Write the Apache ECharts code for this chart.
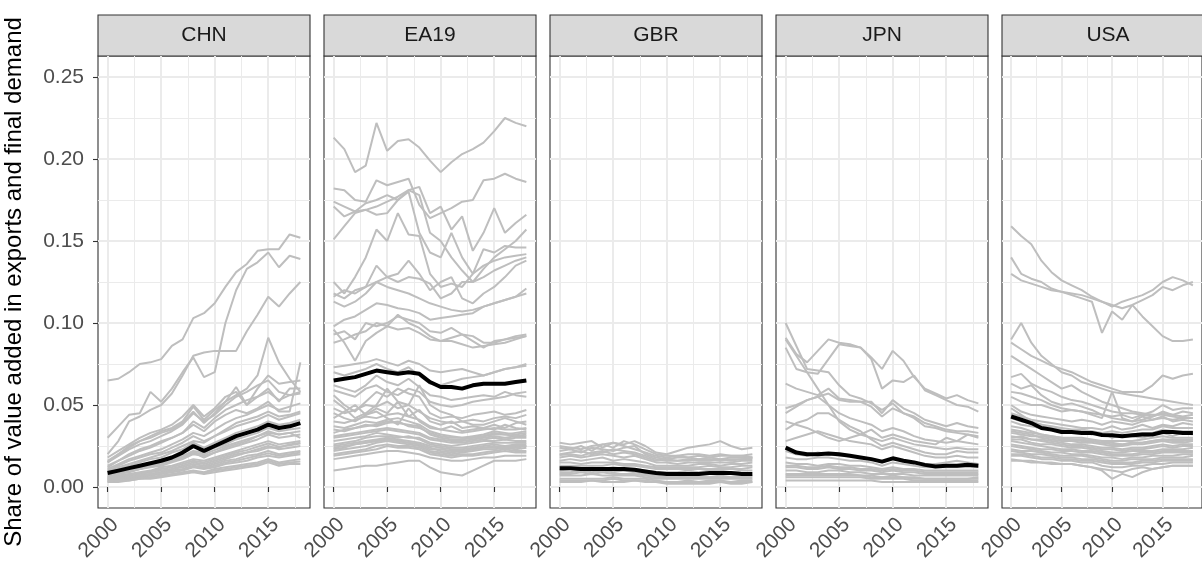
<!DOCTYPE html>
<html>
<head>
<meta charset="utf-8">
<script src="https://cdn.jsdelivr.net/npm/echarts@6/dist/echarts.min.js"></script>
<style>
  html, body { margin: 0; padding: 0; background: #fff; }
  #chart { width: 1202px; height: 572px; }
</style>
</head>
<body>
<div id="chart"></div>
<script>
// years on the x axis
const years = [2000, 2001, 2002, 2003, 2004, 2005, 2006, 2007, 2008, 2009,
  2010, 2011, 2012, 2013, 2014, 2015, 2016, 2017, 2018];
const panels = ['CHN', 'EA19', 'GBR', 'JPN', 'USA'];
const yTicks = [0, 0.05, 0.10, 0.15, 0.20, 0.25];
const yMinor = [0.025, 0.075, 0.125, 0.175, 0.225];
const xTicks = [2000, 2005, 2010, 2015];
const xMinor = [2002.5, 2007.5, 2012.5, 2017.5];

// CHN
const chnMean = [.0085, .010, .0115, .013, .0145, .016, .018, .021, .025, .022, .025, .028, .031, .033, .035, .038, .036, .037, .039];
const chnLines = [
  [.065, .066, .070, .075, .076, .078, .086, .090, .103, .106, .112, .122, .131, .136, .144, .145, .145, .154, .152],
  [.030, .037, .044, .045, .058, .052, .060, .070, .079, .067, .070, .100, .120, .133, .137, .143, .134, .141, .139],
  [.020, .028, .040, .043, .047, .050, .057, .068, .080, .082, .083, .083, .083, .095, .105, .116, .110, .118, .125],
  [.015, .020, .025, .028, .031, .034, .036, .040, .049, .041, .047, .052, .056, .060, .068, .091, .076, .066, .058],
  [.012, .016, .019, .022, .024, .027, .030, .033, .038, .034, .040, .044, .047, .045, .048, .052, .046, .046, .076],
  [.018, .022, .026, .030, .033, .035, .038, .043, .050, .043, .048, .055, .058, .050, .060, .068, .063, .064, .065],
  [.015, .019, .023, .026, .028, .031, .034, .038, .045, .040, .044, .050, .055, .058, .062, .065, .058, .056, .058],
  [.016, .020, .024, .028, .030, .033, .035, .039, .046, .039, .045, .052, .061, .050, .055, .060, .052, .060, .060],
  [.013, .016, .020, .023, .025, .028, .030, .033, .040, .036, .042, .047, .050, .053, .055, .058, .053, .056, .057],
  [.011, .014, .017, .019, .021, .023, .026, .029, .033, .031, .035, .039, .042, .044, .047, .050, .047, .049, .051],
  [.010, .012, .014, .016, .018, .020, .022, .025, .028, .027, .031, .034, .037, .039, .041, .044, .041, .043, .045],
  [.008, .009, .010, .012, .013, .015, .017, .019, .022, .021, .024, .026, .029, .031, .033, .036, .034, .035, .036],
  [.007, .008, .009, .011, .012, .013, .015, .017, .020, .019, .021, .023, .025, .027, .029, .032, .030, .031, .032],
  [.006, .007, .008, .009, .010, .012, .013, .015, .017, .016, .018, .020, .022, .024, .026, .028, .026, .027, .028],
  [.005, .006, .007, .008, .009, .010, .011, .013, .015, .014, .016, .018, .020, .021, .023, .025, .023, .024, .025],
  [.005, .005, .006, .007, .008, .009, .010, .011, .013, .012, .014, .016, .017, .019, .020, .022, .020, .021, .022],
  [.004, .005, .005, .006, .007, .008, .009, .010, .012, .011, .012, .014, .015, .016, .018, .019, .018, .019, .020],
  [.003, .004, .004, .005, .006, .007, .008, .009, .010, .009, .011, .012, .013, .014, .015, .017, .015, .016, .017],
  [.003, .003, .004, .005, .005, .006, .007, .008, .009, .008, .009, .010, .011, .012, .013, .015, .013, .014, .014],
  [.009, .011, .013, .015, .017, .018, .021, .023, .027, .024, .027, .030, .033, .035, .037, .040, .038, .039, .041],
  [.006, .008, .010, .011, .013, .014, .016, .018, .021, .018, .021, .024, .026, .028, .031, .033, .032, .033, .030],
  [.004, .005, .006, .007, .008, .009, .011, .012, .014, .013, .015, .017, .019, .021, .022, .024, .024, .026, .027],
  [.0075, .0085, .0095, .011, .0125, .014, .016, .018, .021, .020, .0225, .025, .027, .029, .031, .034, .032, .033, .034],
  [.0055, .0065, .0075, .0085, .0095, .011, .012, .014, .016, .015, .017, .019, .021, .0225, .0245, .0265, .0245, .0255, .0265],
  [.0045, .0055, .006, .0065, .0075, .0085, .0095, .0105, .0125, .0115, .013, .015, .016, .0175, .019, .0205, .019, .020, .021],
  [.0035, .004, .0045, .0055, .006, .0065, .0075, .0085, .0095, .0085, .010, .011, .012, .013, .014, .016, .014, .015, .0155],
  [.010, .013, .016, .018, .020, .021, .024, .027, .031, .028, .031, .035, .039, .041, .043, .046, .043, .044, .046]
];

// EA19
const eaMean = [.065, .066, .067, .069, .071, .070, .069, .070, .069, .064, .061, .061, .060, .062, .063, .063, .063, .064, .065];
const eaLines = [
  [.213, .206, .192, .196, .222, .205, .211, .212, .207, .199, .192, .198, .203, .206, .210, .217, .225, .222, .220],
  [.182, .181, .175, .174, .187, .184, .186, .188, .172, .164, .167, .170, .174, .175, .187, .188, .191, .188, .186],
  [.174, .171, .168, .173, .175, .178, .175, .181, .183, .167, .171, .157, .165, .144, .155, .170, .155, .161, .166],
  [.171, .165, .168, .169, .166, .167, .175, .180, .155, .143, .140, .155, .140, .130, .145, .143, .147, .146, .146],
  [.151, .159, .167, .169, .171, .174, .177, .181, .178, .155, .150, .140, .132, .125, .133, .140, .145, .150, .157],
  [.125, .118, .128, .140, .157, .150, .167, .154, .153, .130, .122, .124, .122, .130, .135, .138, .140, .141, .142],
  [.118, .115, .120, .122, .125, .128, .125, .128, .127, .124, .115, .118, .125, .125, .128, .132, .135, .138, .140],
  [.116, .120, .118, .122, .135, .128, .130, .138, .130, .120, .125, .128, .115, .112, .118, .122, .128, .135, .138],
  [.113, .110, .113, .118, .125, .122, .120, .118, .115, .112, .110, .108, .107, .108, .110, .112, .114, .116, .118],
  [.098, .102, .104, .108, .112, .111, .109, .108, .106, .102, .103, .104, .105, .106, .110, .112, .114, .116, .121],
  [.093, .095, .090, .100, .098, .100, .104, .102, .100, .095, .094, .097, .093, .092, .088, .088, .090, .092, .093],
  [.096, .088, .077, .089, .094, .098, .105, .100, .097, .092, .089, .091, .093, .089, .085, .089, .090, .091, .092],
  [.088, .090, .093, .095, .100, .098, .096, .097, .094, .090, .089, .089, .087, .085, .086, .087, .088, .090, .092],
  [.073, .074, .075, .076, .078, .076, .074, .077, .075, .071, .070, .071, .072, .070, .068, .070, .072, .073, .075],
  [.070, .068, .070, .072, .075, .072, .070, .073, .068, .063, .062, .064, .066, .067, .068, .070, .072, .073, .074],
  [.059, .057, .055, .060, .062, .058, .056, .060, .058, .052, .050, .049, .050, .052, .053, .054, .055, .057, .058],
  [.056, .050, .046, .052, .058, .055, .060, .057, .055, .045, .042, .043, .042, .044, .045, .046, .044, .045, .047],
  [.053, .048, .042, .045, .050, .060, .052, .050, .062, .050, .046, .044, .040, .038, .038, .040, .042, .040, .038],
  [.045, .042, .040, .044, .046, .042, .038, .048, .040, .036, .035, .037, .034, .035, .036, .035, .038, .036, .035],
  [.037, .036, .038, .040, .039, .041, .042, .040, .038, .034, .032, .031, .030, .031, .032, .034, .033, .032, .033],
  [.031, .032, .033, .034, .035, .036, .035, .034, .033, .030, .029, .028, .028, .029, .030, .031, .030, .031, .031],
  [.028, .029, .030, .031, .033, .032, .031, .030, .030, .027, .026, .025, .026, .027, .028, .028, .029, .028, .028],
  [.025, .026, .027, .028, .029, .030, .029, .028, .027, .025, .024, .023, .023, .024, .025, .026, .025, .026, .026],
  [.022, .023, .024, .025, .027, .028, .027, .026, .025, .022, .021, .020, .021, .022, .023, .023, .024, .023, .024],
  [.019, .020, .021, .022, .023, .025, .024, .024, .023, .020, .019, .018, .019, .019, .020, .021, .022, .021, .021],
  [.010, .011, .012, .013, .013, .014, .015, .016, .016, .012, .009, .008, .007, .010, .013, .016, .016, .016, .017],
  [.042, .046, .050, .044, .048, .045, .052, .043, .047, .040, .038, .040, .036, .037, .036, .038, .036, .039, .040],
  [.062, .060, .058, .062, .068, .064, .062, .066, .061, .056, .055, .053, .054, .055, .056, .055, .058, .056, .055],
  [.033, .035, .036, .038, .037, .039, .040, .037, .036, .033, .031, .030, .030, .030, .031, .032, .032, .033, .034],
  [.026, .027, .028, .030, .031, .031, .030, .031, .029, .026, .025, .024, .024, .025, .026, .027, .027, .027, .027],
  [.023, .024, .026, .027, .028, .029, .028, .027, .026, .024, .022, .021, .022, .023, .024, .024, .025, .025, .025],
  [.017, .018, .019, .020, .021, .022, .022, .021, .020, .018, .017, .016, .016, .017, .018, .018, .019, .019, .019],
  [.030, .031, .032, .033, .034, .035, .034, .033, .032, .029, .028, .027, .027, .028, .029, .030, .029, .030, .030],
  [.035, .034, .036, .037, .038, .040, .039, .038, .037, .032, .030, .029, .029, .030, .031, .033, .032, .031, .032],
  [.024, .025, .026, .027, .028, .029, .028, .027, .026, .023, .023, .022, .022, .023, .024, .025, .024, .024, .025],
  [.020, .021, .022, .023, .025, .026, .025, .025, .024, .021, .020, .019, .020, .020, .021, .022, .023, .022, .022],
  [.040, .039, .041, .043, .042, .044, .045, .043, .041, .037, .035, .034, .033, .034, .035, .036, .035, .035, .036],
  [.048, .045, .047, .050, .049, .052, .048, .050, .046, .042, .040, .039, .040, .041, .040, .042, .043, .042, .044]
];

// GBR
const gbrMean = [.0115, .0115, .011, .011, .011, .011, .011, .0105, .0095, .0085, .008, .008, .008, .008, .0085, .0085, .0085, .008, .008];
const gbrLines = [
  [.027, .026, .027, .028, .024, .027, .026, .028, .025, .021, .020, .022, .024, .025, .026, .028, .025, .023, .024],
  [.024, .023, .025, .022, .026, .027, .025, .023, .021, .019, .018, .019, .020, .020, .019, .020, .019, .019, .020],
  [.022, .023, .021, .024, .023, .022, .024, .025, .020, .018, .017, .018, .018, .017, .018, .017, .018, .018, .018],
  [.020, .021, .022, .020, .021, .023, .022, .021, .019, .017, .016, .016, .017, .016, .016, .017, .016, .017, .017],
  [.018, .019, .018, .019, .020, .019, .018, .019, .017, .015, .015, .014, .015, .015, .015, .015, .015, .016, .016],
  [.016, .017, .016, .017, .018, .016, .017, .016, .015, .013, .013, .013, .013, .014, .014, .013, .014, .014, .015],
  [.015, .015, .014, .015, .015, .015, .014, .014, .013, .012, .012, .012, .012, .012, .013, .012, .012, .013, .013],
  [.013, .013, .013, .013, .013, .014, .013, .013, .012, .011, .011, .011, .011, .011, .011, .011, .011, .011, .012],
  [.009, .009, .010, .009, .010, .009, .010, .009, .008, .007, .006, .006, .007, .006, .006, .007, .006, .006, .007],
  [.007, .007, .007, .008, .007, .007, .007, .007, .006, .005, .005, .005, .005, .005, .005, .005, .005, .005, .005],
  [.005, .005, .005, .005, .005, .006, .005, .005, .005, .004, .003, .003, .004, .003, .004, .004, .003, .004, .004],
  [.003, .003, .003, .004, .003, .003, .003, .004, .003, .003, .002, .002, .002, .002, .002, .003, .002, .002, .003],
  [.0195, .020, .019, .021, .022, .020, .021, .020, .018, .016, .017, .016, .016, .017, .017, .016, .017, .017, .018],
  [.025, .024, .023, .025, .026, .024, .028, .026, .023, .020, .019, .019, .018, .019, .018, .019, .019, .019, .018],
  [.010, .011, .011, .012, .011, .012, .011, .011, .010, .009, .009, .009, .010, .009, .010, .010, .009, .010, .010],
  [.008, .008, .009, .008, .009, .008, .008, .008, .007, .006, .006, .006, .006, .006, .006, .006, .006, .006, .006],
  [.004, .004, .004, .004, .004, .005, .004, .004, .004, .003, .003, .003, .003, .003, .003, .003, .003, .003, .003]
];

// JPN
const jpnMean = [.024, .021, .020, .020, .0205, .020, .019, .018, .017, .0155, .0175, .016, .015, .0135, .0125, .013, .013, .0135, .013];
const jpnLines = [
  [.100, .086, .072, .071, .070, .062, .056, .054, .051, .047, .051, .045, .042, .037, .036, .034, .033, .032, .031],
  [.091, .081, .076, .083, .090, .088, .087, .085, .079, .072, .083, .077, .067, .060, .057, .054, .056, .053, .051],
  [.085, .072, .070, .069, .078, .087, .086, .085, .078, .060, .065, .064, .068, .059, .056, .053, .050, .049, .046],
  [.063, .060, .058, .056, .060, .054, .053, .052, .052, .045, .053, .048, .045, .041, .039, .037, .039, .037, .036],
  [.045, .049, .053, .055, .057, .053, .052, .052, .049, .043, .048, .045, .043, .039, .037, .035, .034, .034, .033],
  [.035, .039, .041, .045, .045, .041, .037, .034, .029, .025, .027, .025, .023, .021, .020, .020, .022, .021, .021],
  [.090, .080, .070, .060, .050, .040, .035, .032, .030, .028, .030, .028, .026, .025, .024, .023, .024, .023, .023],
  [.048, .050, .053, .055, .050, .045, .042, .040, .038, .034, .036, .034, .031, .029, .028, .027, .028, .027, .026],
  [.040, .038, .036, .033, .030, .028, .030, .032, .035, .030, .032, .030, .028, .027, .026, .030, .028, .032, .030],
  [.022, .020, .019, .021, .020, .019, .019, .018, .017, .015, .017, .016, .015, .014, .014, .015, .016, .015, .014],
  [.018, .017, .017, .018, .018, .017, .016, .016, .015, .013, .015, .014, .013, .012, .012, .012, .012, .012, .012],
  [.015, .014, .014, .013, .014, .014, .013, .013, .012, .011, .012, .011, .011, .010, .010, .010, .010, .010, .010],
  [.012, .012, .011, .011, .012, .011, .011, .010, .010, .009, .010, .009, .009, .008, .008, .008, .008, .008, .008],
  [.010, .010, .009, .009, .010, .010, .009, .009, .008, .008, .008, .008, .007, .007, .007, .007, .007, .007, .007],
  [.008, .008, .008, .008, .008, .008, .008, .007, .007, .006, .007, .006, .006, .005, .005, .005, .005, .005, .005],
  [.006, .006, .006, .006, .006, .006, .006, .006, .005, .005, .005, .005, .004, .004, .004, .004, .004, .004, .004],
  [.004, .004, .004, .004, .004, .004, .004, .004, .004, .003, .003, .003, .003, .003, .003, .003, .003, .003, .003],
  [.013, .013, .012, .012, .013, .012, .012, .011, .011, .010, .011, .010, .010, .009, .009, .009, .009, .009, .009],
  [.007, .007, .007, .007, .007, .007, .007, .007, .006, .006, .006, .006, .005, .005, .005, .005, .005, .005, .006],
  [.028, .030, .032, .034, .032, .030, .028, .027, .026, .023, .025, .023, .021, .019, .018, .018, .019, .018, .018]
];

// USA
const usaMean = [.043, .041, .039, .036, .035, .0335, .0335, .033, .033, .0317, .0315, .031, .0315, .032, .032, .0335, .0335, .033, .033];
const usaLines = [
  [.159, .153, .148, .138, .131, .126, .123, .120, .116, .113, .110, .113, .115, .117, .120, .125, .128, .126, .123],
  [.140, .130, .127, .125, .121, .119, .117, .115, .113, .094, .107, .102, .111, .104, .098, .092, .089, .089, .090],
  [.130, .126, .124, .122, .120, .119, .118, .117, .115, .113, .111, .109, .111, .114, .117, .122, .120, .123, .125],
  [.090, .100, .088, .080, .075, .070, .068, .064, .062, .060, .058, .057, .056, .055, .054, .053, .052, .051, .050],
  [.088, .084, .080, .077, .074, .072, .070, .067, .064, .062, .060, .058, .058, .058, .062, .068, .066, .068, .069],
  [.067, .069, .063, .060, .058, .055, .053, .052, .050, .048, .046, .045, .045, .044, .046, .050, .047, .048, .048],
  [.063, .060, .062, .056, .052, .050, .051, .049, .047, .044, .043, .044, .042, .044, .043, .045, .044, .046, .045],
  [.058, .057, .055, .053, .050, .048, .047, .046, .044, .042, .058, .042, .040, .043, .041, .042, .041, .042, .042],
  [.055, .052, .050, .050, .048, .046, .047, .046, .045, .044, .042, .041, .040, .041, .043, .046, .044, .043, .044],
  [.040, .038, .037, .036, .035, .034, .034, .033, .033, .032, .031, .031, .032, .033, .033, .035, .034, .034, .034],
  [.037, .036, .034, .032, .031, .030, .030, .030, .029, .028, .028, .028, .028, .029, .030, .031, .030, .030, .030],
  [.034, .033, .032, .030, .029, .028, .028, .027, .027, .026, .025, .025, .026, .026, .027, .028, .027, .027, .028],
  [.031, .030, .029, .028, .027, .026, .025, .025, .024, .023, .023, .022, .023, .023, .024, .025, .024, .025, .025],
  [.028, .027, .026, .025, .024, .023, .023, .022, .022, .021, .020, .020, .020, .021, .021, .022, .022, .022, .022],
  [.025, .024, .023, .022, .021, .021, .020, .020, .019, .018, .018, .017, .018, .018, .019, .019, .019, .020, .020],
  [.022, .021, .020, .020, .019, .018, .018, .017, .017, .016, .015, .015, .015, .016, .016, .017, .017, .017, .017],
  [.019, .019, .018, .017, .017, .016, .016, .015, .015, .013, .012, .012, .013, .013, .014, .014, .015, .015, .015],
  [.016, .016, .015, .015, .014, .014, .014, .013, .012, .011, .010, .009, .011, .012, .011, .012, .013, .013, .013],
  [.017, .016, .016, .015, .015, .014, .014, .013, .012, .010, .005, .008, .006, .009, .011, .012, .013, .013, .013],
  [.045, .043, .041, .040, .039, .038, .037, .036, .036, .035, .037, .035, .036, .038, .036, .038, .037, .039, .038],
  [.050, .046, .044, .043, .042, .041, .040, .041, .040, .038, .040, .039, .038, .040, .041, .043, .040, .041, .040],
  [.048, .044, .040, .038, .036, .035, .033, .035, .032, .033, .030, .032, .031, .030, .032, .033, .031, .033, .032],
  [.080, .076, .072, .068, .064, .060, .062, .058, .055, .052, .050, .048, .046, .045, .044, .044, .043, .042, .042],
  [.029, .029, .027, .026, .026, .025, .024, .024, .023, .022, .021, .021, .022, .022, .022, .023, .023, .023, .024],
  [.023, .022, .022, .021, .020, .019, .019, .019, .018, .017, .016, .016, .017, .017, .017, .018, .018, .018, .019],
  [.033, .032, .031, .031, .030, .029, .029, .028, .028, .027, .027, .026, .027, .027, .028, .029, .029, .029, .029],
  [.035, .034, .033, .032, .031, .030, .029, .029, .028, .027, .026, .026, .027, .027, .028, .029, .028, .028, .029],
  [.026, .025, .024, .023, .023, .022, .022, .021, .021, .020, .019, .019, .019, .020, .020, .021, .021, .021, .021],
  [.020, .020, .019, .018, .018, .017, .017, .016, .016, .015, .014, .014, .014, .015, .015, .016, .016, .016, .016],
  [.042, .040, .039, .038, .037, .036, .035, .035, .034, .033, .034, .033, .034, .035, .035, .037, .036, .036, .036],
  [.030, .031, .029, .029, .028, .027, .026, .026, .025, .024, .024, .023, .024, .024, .025, .026, .025, .026, .026]
];

const allLines = [chnLines, eaLines, gbrLines, jpnLines, usaLines];
const allMeans = [chnMean, eaMean, gbrMean, jpnMean, usaMean];

const font = 'Liberation Sans, Arial, Helvetica, sans-serif';
const panelLeft = [98, 324, 550, 776, 1002];
const panelW = 212, panelTop = 56, panelH = 452, stripTop = 15;
const xMin = 1999.1, xMax = 2018.9, yMin = -0.0128, yMax = 0.2628;

const grids = [], xAxes = [], yAxes = [], series = [], graphics = [];

panels.forEach((name, i) => {
  grids.push({
    left: panelLeft[i], top: panelTop, width: panelW, height: panelH,
    show: true, borderColor: '#333', borderWidth: 1.1, backgroundColor: '#fff'
  });
  // minor grid lines
  xAxes.push({
    gridIndex: i, type: 'value', position: 'bottom', min: xMin, max: xMax,
    axisLine: { show: false },
    axisTick: { show: false, customValues: xMinor },
    axisLabel: { show: false },
    splitLine: { show: true, lineStyle: { color: '#ebebeb', width: 1 } }
  });
  // major axis
  xAxes.push({
    gridIndex: i, type: 'value', position: 'bottom', min: xMin, max: xMax,
    axisLine: { show: false },
    axisTick: { show: true, customValues: xTicks, length: 5, lineStyle: { color: '#333', width: 1.1 } },
    axisLabel: {
      customValues: xTicks, rotate: 45, margin: 6, fontSize: 21, color: '#4d4d4d', fontFamily: font,
      align: 'right', verticalAlign: 'top',
      formatter: v => String(v)
    },
    splitLine: { show: true, lineStyle: { color: '#ebebeb', width: 2 } }
  });
  yAxes.push({
    gridIndex: i, type: 'value', position: 'left', min: yMin, max: yMax,
    axisLine: { show: false },
    axisTick: { show: false, customValues: yMinor },
    axisLabel: { show: false },
    splitLine: { show: true, lineStyle: { color: '#ebebeb', width: 1 } }
  });
  const first = i === 0;
  yAxes.push({
    gridIndex: i, type: 'value', position: 'left', min: yMin, max: yMax,
    name: first ? 'Share of value added in exports and final demand' : '',
    nameLocation: 'middle', nameGap: 72, nameRotate: 90,
    nameTextStyle: { fontSize: 24, color: '#000', fontFamily: font },
    axisLine: { show: false },
    axisTick: { show: first, customValues: yTicks, length: 5, lineStyle: { color: '#333', width: 1.1 } },
    axisLabel: {
      show: first, customValues: yTicks, margin: 14, fontSize: 21, color: '#4d4d4d', fontFamily: font,
      formatter: v => v.toFixed(2)
    },
    splitLine: { show: true, lineStyle: { color: '#ebebeb', width: 2 } }
  });

  allLines[i].forEach(vals => {
    series.push({
      type: 'line', xAxisIndex: 2 * i + 1, yAxisIndex: 2 * i + 1,
      data: years.map((yr, k) => [yr, vals[k]]),
      showSymbol: false, silent: true,
      lineStyle: { color: '#bebebe', width: 2 }
    });
  });
  series.push({
    type: 'line', xAxisIndex: 2 * i + 1, yAxisIndex: 2 * i + 1,
    data: years.map((yr, k) => [yr, allMeans[i][k]]),
    showSymbol: false, silent: true,
    lineStyle: { color: '#000', width: 4 }
  });

  graphics.push({
    type: 'rect',
    shape: { x: panelLeft[i], y: stripTop, width: panelW, height: panelTop - stripTop },
    style: { fill: '#d9d9d9', stroke: '#333', lineWidth: 1.1 }
  });
  graphics.push({
    type: 'text',
    x: panelLeft[i] + panelW / 2, y: (stripTop + panelTop) / 2,
    style: { text: name, fontSize: 21, fill: '#1a1a1a', fontFamily: font, align: 'center', verticalAlign: 'middle' }
  });
});

const chart = echarts.init(document.getElementById('chart'));
chart.setOption({
  animation: false,
  backgroundColor: '#fff',
  textStyle: { fontFamily: font },
  grid: grids,
  xAxis: xAxes,
  yAxis: yAxes,
  series: series,
  graphic: graphics
});
</script>
</body>
</html>
